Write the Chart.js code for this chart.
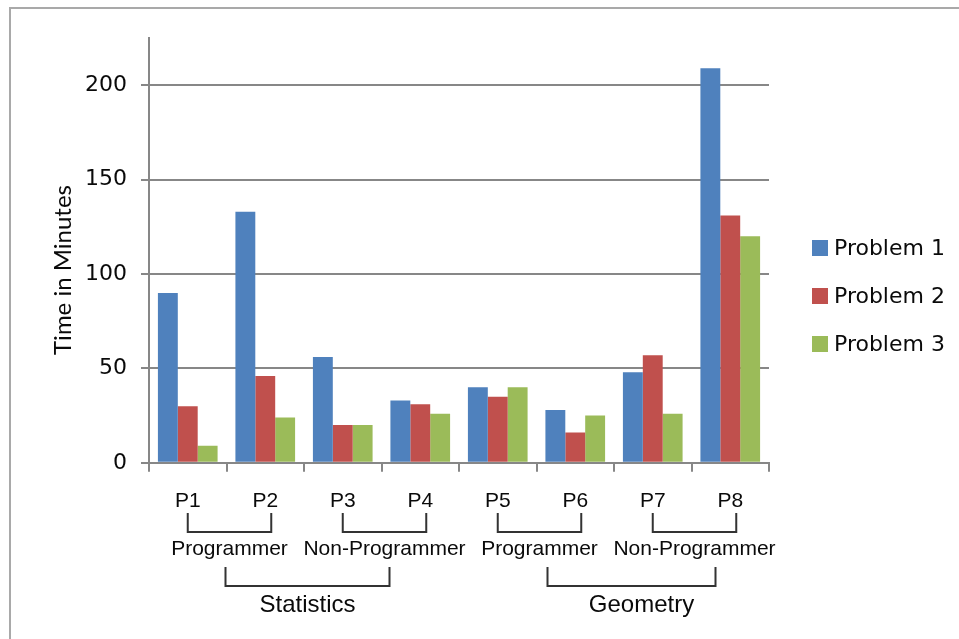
<!DOCTYPE html>
<html>
<head>
<meta charset="utf-8">
<script src="https://cdn.jsdelivr.net/npm/chart.js@4/dist/chart.umd.min.js"></script>
<style>
  html, body { margin: 0; padding: 0; background: #fff; overflow: hidden; }
  #frame { position: absolute; left: 9px; top: 7px; width: 1000px; height: 700px; border: 2px solid #a9a9a9; }
  #myChart { position: absolute; left: 0; top: 0; }
</style>
</head>
<body>
<div id="frame"></div>
<canvas id="myChart" width="959" height="639"></canvas>
<script>
// values
var categories = ['P1', 'P2', 'P3', 'P4', 'P5', 'P6', 'P7', 'P8'];
var problem1 = [90, 133, 56, 33, 40, 28, 48, 209];
var problem2 = [30, 46, 20, 31, 35, 16, 57, 131];
var problem3 = [9, 24, 20, 26, 40, 25, 26, 120];
var seriesNames = ['Problem 1', 'Problem 2', 'Problem 3'];
var yTicks = [0, 50, 100, 150, 200];
var roleGroups = [
    { label: 'Programmer', from: 0, to: 1 },
    { label: 'Non-Programmer', from: 2, to: 3 },
    { label: 'Programmer', from: 4, to: 5 },
    { label: 'Non-Programmer', from: 6, to: 7 }
];
var subjectGroups = [
    { label: 'Statistics', from: 0, to: 3 },
    { label: 'Geometry', from: 4, to: 7 }
];

var colors = ['#4F81BD', '#C0504D', '#9BBB59'];
var axisGrey = '#878787';
var textColor = '#0a0a0a';
// the outer brackets were placed by hand in the original, a bit off centre
var subjectNudge = [[-4, 0], [8, 16]];

// brackets, grouped labels, y title and legend
var extras = {
    id: 'extras',
    afterDraw: function (chart) {
        var ctx = chart.ctx;
        var x = chart.scales.x;
        ctx.save();
        ctx.strokeStyle = '#333';
        ctx.lineWidth = 2;
        ctx.fillStyle = textColor;
        ctx.textAlign = 'center';
        ctx.textBaseline = 'middle';

        var mids = [];
        roleGroups.forEach(function (g) {
            var l = x.getPixelForValue(g.from);
            var r = x.getPixelForValue(g.to) + 6;
            ctx.beginPath();
            ctx.moveTo(l, 513); ctx.lineTo(l, 532); ctx.lineTo(r, 532); ctx.lineTo(r, 513);
            ctx.stroke();
            ctx.font = '21px "Liberation Sans", Arial, sans-serif';
            ctx.fillText(g.label, (l + r) / 2, 549);
            mids.push((l + r) / 2);
        });

        subjectGroups.forEach(function (g, i) {
            var l = mids[i * 2] + subjectNudge[i][0];
            var r = mids[i * 2 + 1] + 5 + subjectNudge[i][1];
            ctx.beginPath();
            ctx.moveTo(l, 567); ctx.lineTo(l, 586); ctx.lineTo(r, 586); ctx.lineTo(r, 567);
            ctx.stroke();
            ctx.font = '24px "Liberation Sans", Arial, sans-serif';
            ctx.fillText(g.label, (l + r) / 2 + (i ? 10 : 0), 605);
        });

        // y axis title
        ctx.save();
        ctx.translate(63, 270);
        ctx.rotate(-Math.PI / 2);
        ctx.font = '24px Lato, sans-serif';
        ctx.fillText('Time in Minutes', 0, 0);
        ctx.restore();

        // legend
        ctx.textAlign = 'left';
        ctx.font = '22px "DejaVu Sans", sans-serif';
        chart.data.datasets.forEach(function (ds, i) {
            var cy = 248 + i * 48;
            ctx.fillStyle = ds.backgroundColor;
            ctx.fillRect(812, cy - 8, 16, 16);
            ctx.fillStyle = textColor;
            ctx.fillText(ds.label, 834, cy + 1);
        });
        ctx.restore();
    }
};

var myChart = new Chart('myChart', {
    type: 'bar',
    data: {
        labels: categories,
        datasets: [
            { label: seriesNames[0], data: problem1, backgroundColor: colors[0] },
            { label: seriesNames[1], data: problem2, backgroundColor: colors[1] },
            { label: seriesNames[2], data: problem3, backgroundColor: colors[2] }
        ]
    },
    options: {
        responsive: false,
        animation: false,
        devicePixelRatio: 1,
        categoryPercentage: 0.77,
        barPercentage: 1.0,
        layout: { padding: { left: 0, right: 190, top: 38, bottom: 108 } },
        plugins: { legend: { display: false }, tooltip: { enabled: false } },
        scales: {
            x: {
                offset: true,
                grid: { offset: true, drawOnChartArea: false, drawTicks: true, tickLength: 9, color: axisGrey, lineWidth: 2 },
                border: { color: axisGrey, width: 2 },
                ticks: { color: textColor, padding: 17, font: { family: '"Liberation Sans", Arial, sans-serif', size: 21 } }
            },
            y: {
                min: 0,
                max: 225,
                afterFit: function (s) { s.width = 149; },
                afterBuildTicks: function (s) {
                    s.ticks = yTicks.map(function (v) { return { value: v }; });
                },
                grid: { color: axisGrey, lineWidth: 2, tickLength: 8 },
                border: { color: axisGrey, width: 2 },
                ticks: { color: textColor, padding: 14, font: { family: '"DejaVu Sans", sans-serif', size: 22 } }
            }
        }
    },
    plugins: [extras]
});
</script>
</body>
</html>
